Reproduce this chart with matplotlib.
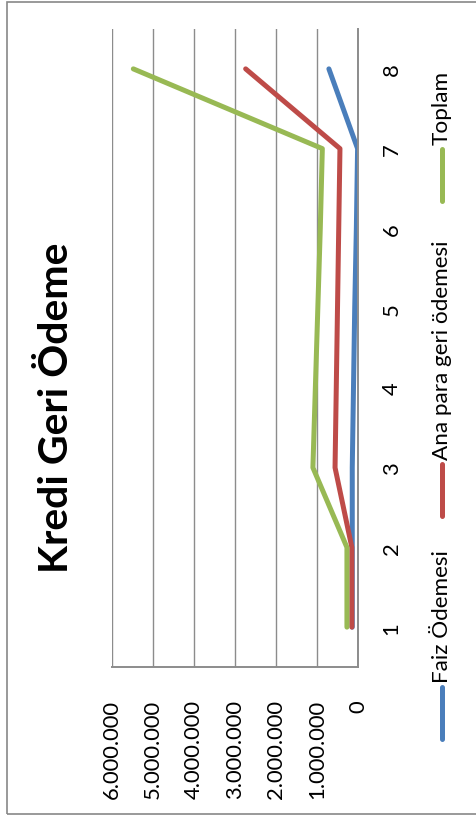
import matplotlib
matplotlib.use("Agg")
import matplotlib.pyplot as plt
from matplotlib.lines import Line2D
from matplotlib.patches import Rectangle
from matplotlib.ticker import FuncFormatter

plt.rcParams['font.family'] = ['Lato', 'DejaVu Sans']

# payment periods and yearly amounts (TL)
periods = [1, 2, 3, 4, 5, 6, 7, 8]
faiz = [140000, 140000, 140000, 110000, 80000, 40000, 10000, 710000]
ana_para = [150000, 150000, 560000, 530000, 500000, 470000, 440000, 2740000]
toplam = [270000, 270000, 1100000, 1040000, 980000, 920000, 870000, 5480000]

series_names = ["Faiz Ödemesi", "Ana para geri ödemesi", "Toplam"]
series_colors = ["#4A7EBB", "#BE4B48", "#98B954"]
value_ticks = [0, 1000000, 2000000, 3000000, 4000000, 5000000, 6000000]

W, H = 477, 820
fig = plt.figure(figsize=(W / 100, H / 100), dpi=100)

# outer chart border
fig.add_artist(Rectangle((7 / W, 1 - 815 / H), (485 - 7) / W, (815 - 3) / H,
                         transform=fig.transFigure, fill=False,
                         edgecolor="#888888", linewidth=1.2))

# the chart is laid out turned a quarter turn: values run right-to-left
ax = fig.add_axes([112 / W, 1 - 668 / H, (358 - 112) / W, (668 - 30) / H])
for vals, color in zip([faiz, ana_para, toplam], series_colors):
    ax.plot(vals, periods, color=color, linewidth=3.6,
            solid_capstyle='round', solid_joinstyle='round')

ax.set_xlim(6000000, 0)
ax.set_ylim(0.5, 8.5)
ax.set_xticks(value_ticks)
ax.xaxis.set_major_formatter(FuncFormatter(
    lambda v, p: "0" if v == 0 else f"{int(v):,}".replace(",", ".")))
ax.set_yticks(periods)
ax.yaxis.tick_right()
ax.tick_params(axis='x', length=0, pad=23, labelsize=15.8, labelrotation=90)
ax.tick_params(axis='y', length=0, pad=17, labelsize=15.8)
for lbl in ax.get_yticklabels():
    lbl.set_rotation(90)
    lbl.set_va('center')
    lbl.set_ha('left')

ax.grid(axis='x', color="#8C8C8C", linewidth=1.0)
ax.set_axisbelow(True)
for side in ['top', 'left']:
    ax.spines[side].set_visible(False)
for side in ['right', 'bottom']:
    ax.spines[side].set_color("#8C8C8C")
    ax.spines[side].set_linewidth(1.4)

# title
fig.text(57 / W, 1 - 408 / H, "Kredi Geri Ödeme", rotation=90,
         ha='center', va='center', fontsize=29.5, fontweight='bold')

# legend, drawn turned like the rest of the chart
legend_x = 442 / W
legend_starts = [740, 517, 202]
for name, color, start in zip(series_names, series_colors, legend_starts):
    fig.add_artist(Line2D([legend_x, legend_x],
                          [1 - start / H, 1 - (start - 52) / H],
                          transform=fig.transFigure, color=color,
                          linewidth=3.6, solid_capstyle='round'))
    fig.text(legend_x, 1 - (start - 57) / H, name, rotation=90,
             rotation_mode='anchor', ha='left', va='center', fontsize=16.2)

fig.savefig("out.png", dpi=100)
